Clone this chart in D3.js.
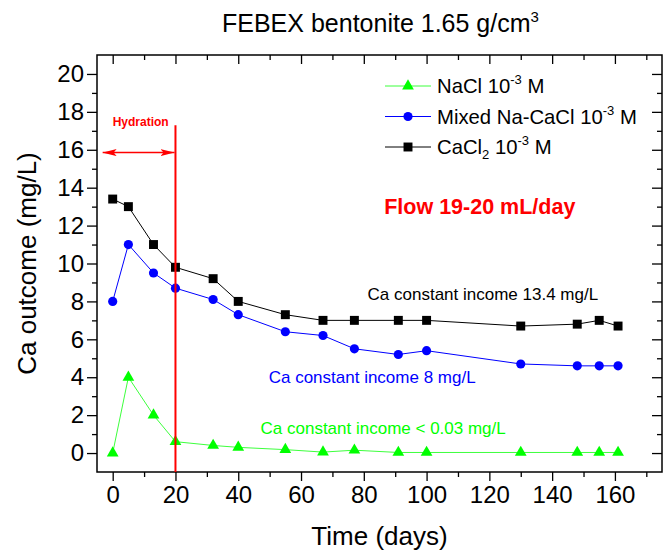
<!DOCTYPE html>
<html>
<head>
<meta charset="utf-8">
<script src="https://cdn.jsdelivr.net/npm/d3@7"></script>
<style>
  body { margin: 0; background: #fff; }
  svg { display: block; font-family: 'Liberation Sans', Arial, sans-serif; }
</style>
</head>
<body>
<div id="chart"></div>
<script>
// sampling times (days) shared by the three runs
const days = [0, 5, 13, 20, 32, 40, 55, 67, 77, 91, 100, 130, 148, 155, 161];
const naclCa = [0, 4.0, 2.0, 0.6, 0.4, 0.3, 0.18, 0.05, 0.15, 0.03, 0.03, 0.03, 0.03, 0.03, 0.03];
const mixedCa = [8.0, 11.0, 9.5, 8.7, 8.1, 7.3, 6.4, 6.2, 5.5, 5.2, 5.4, 4.7, 4.6, 4.6, 4.6];
const cacl2Ca = [13.4, 13.0, 11.0, 9.8, 9.2, 8.0, 7.3, 7.0, 7.0, 7.0, 7.0, 6.7, 6.8, 7.0, 6.7];

const xTickValues = [0, 20, 40, 60, 80, 100, 120, 140, 160];
const xMinorValues = [10, 30, 50, 70, 90, 110, 130, 150, 170];
const yTickValues = [0, 2, 4, 6, 8, 10, 12, 14, 16, 18, 20];
const yMinorValues = [1, 3, 5, 7, 9, 11, 13, 15, 17, 19];

const legendLabels = [
  [{ t: 'NaCl 10' }, { t: '-3', sup: true }, { t: ' M' }],
  [{ t: 'Mixed Na-CaCl 10' }, { t: '-3', sup: true }, { t: ' M' }],
  [{ t: 'CaCl' }, { t: '2', sub: true }, { t: ' 10' }, { t: '-3', sup: true }, { t: ' M' }]
];

const width = 671;
const height = 554;
const margin = { top: 55, right: 9, bottom: 82, left: 97 };
const innerW = width - margin.left - margin.right;
const innerH = height - margin.top - margin.bottom;

const svg = d3.select('#chart').append('svg')
  .attr('width', width)
  .attr('height', height);

const bounds = svg.append('g')
  .attr('transform', `translate(${margin.left},${margin.top})`);

const xScale = d3.scaleLinear().domain([-5, 175]).range([0, innerW]);
const yScale = d3.scaleLinear().domain([-1, 21]).range([innerH, 0]);

// axes: labelled bottom/left, mirrored ticks on top/right
const styleAxis = g => {
  g.select('.domain').remove();
  g.selectAll('line').attr('stroke', '#000').attr('stroke-width', 1.3);
  g.selectAll('text')
    .attr('fill', '#000')
    .style('font-size', '24px')
    .style('font-family', "'Liberation Sans', Arial, sans-serif");
};

bounds.append('g')
  .attr('transform', `translate(0,${innerH})`)
  .call(d3.axisBottom(xScale).tickValues(xTickValues).tickSize(9).tickPadding(5))
  .call(styleAxis);
bounds.append('g')
  .attr('transform', `translate(0,${innerH})`)
  .call(d3.axisBottom(xScale).tickValues(xMinorValues).tickSize(5).tickFormat(''))
  .call(styleAxis);
bounds.append('g')
  .call(d3.axisBottom(xScale).tickValues(xTickValues).tickSize(9).tickFormat(''))
  .call(styleAxis);
bounds.append('g')
  .call(d3.axisBottom(xScale).tickValues(xMinorValues).tickSize(5).tickFormat(''))
  .call(styleAxis);

bounds.append('g')
  .call(d3.axisLeft(yScale).tickValues(yTickValues).tickSize(10).tickPadding(3))
  .call(styleAxis);
bounds.append('g')
  .call(d3.axisLeft(yScale).tickValues(yMinorValues).tickSize(5).tickFormat(''))
  .call(styleAxis);
bounds.append('g')
  .attr('transform', `translate(${innerW},0)`)
  .call(d3.axisLeft(yScale).tickValues(yTickValues).tickSize(10).tickFormat(''))
  .call(styleAxis);
bounds.append('g')
  .attr('transform', `translate(${innerW},0)`)
  .call(d3.axisLeft(yScale).tickValues(yMinorValues).tickSize(5).tickFormat(''))
  .call(styleAxis);

bounds.append('rect')
  .attr('width', innerW)
  .attr('height', innerH)
  .attr('fill', 'none')
  .attr('stroke', '#000')
  .attr('stroke-width', 1.5);

// series
const series = [
  { values: cacl2Ca, line: '#000', fill: '#000', symbol: d3.symbolSquare, size: 80 },
  { values: mixedCa, line: '#0000ff', fill: '#0000ff', symbol: d3.symbolCircle, size: 66 },
  { values: naclCa, line: '#3dff3d', fill: '#00ff00', symbol: d3.symbolTriangle, size: 60 }
];

const lineGen = d3.line()
  .x(d => xScale(d[0]))
  .y(d => yScale(d[1]));

const seriesGroup = bounds.append('g');
series.forEach(s => {
  const pts = days.map((d, i) => [d, s.values[i]]);
  seriesGroup.append('path')
    .attr('d', lineGen(pts))
    .attr('fill', 'none')
    .attr('stroke', s.line)
    .attr('stroke-width', 1);
  seriesGroup.selectAll(null)
    .data(pts)
    .enter()
    .append('path')
    .attr('transform', d => `translate(${xScale(d[0])},${yScale(d[1])})`)
    .attr('d', d3.symbol().type(s.symbol).size(s.size))
    .attr('fill', s.fill);
});

// hydration period
const red = '#ff0000';
bounds.append('line')
  .attr('x1', xScale(20)).attr('x2', xScale(20))
  .attr('y1', yScale(17.3)).attr('y2', innerH)
  .attr('stroke', red)
  .attr('stroke-width', 2);

const defs = svg.append('defs');
defs.append('marker')
  .attr('id', 'arrow')
  .attr('viewBox', '0 0 14 7')
  .attr('refX', 14).attr('refY', 3.5)
  .attr('markerWidth', 14).attr('markerHeight', 7)
  .attr('markerUnits', 'userSpaceOnUse')
  .attr('orient', 'auto-start-reverse')
  .append('path')
  .attr('d', 'M0,0L14,3.5L0,7L3,3.5Z')
  .attr('fill', red);

bounds.append('line')
  .attr('x1', xScale(-3.2)).attr('x2', xScale(19.7))
  .attr('y1', yScale(15.85)).attr('y2', yScale(15.85))
  .attr('stroke', red)
  .attr('stroke-width', 1.5)
  .attr('marker-start', 'url(#arrow)')
  .attr('marker-end', 'url(#arrow)');

bounds.append('text')
  .attr('x', xScale(0))
  .attr('y', yScale(17.25))
  .attr('fill', red)
  .style('font-size', '12px')
  .style('font-weight', 'bold')
  .text('Hydration');

bounds.append('text')
  .attr('x', xScale(86.5))
  .attr('y', yScale(12.6))
  .attr('fill', red)
  .style('font-size', '21.5px')
  .style('font-weight', 'bold')
  .text('Flow 19-20 mL/day');

// constant income notes
const notes = [
  { x: 81.2, y: 8.07, color: '#000', text: 'Ca constant income 13.4 mg/L' },
  { x: 49.7, y: 3.68, color: '#0000ff', text: 'Ca constant income 8 mg/L' },
  { x: 47.1, y: 0.99, color: '#00ff00', text: 'Ca constant income < 0.03 mg/L' }
];
bounds.selectAll('.note')
  .data(notes)
  .enter()
  .append('text')
  .attr('class', 'note')
  .attr('x', d => xScale(d.x))
  .attr('y', d => yScale(d.y))
  .attr('fill', d => d.color)
  .style('font-size', '17px')
  .text(d => d.text);

// legend
const legend = bounds.append('g').attr('transform', 'translate(288,0)');
const legendSeries = [series[2], series[1], series[0]];
legendSeries.forEach((s, i) => {
  const row = legend.append('g').attr('transform', `translate(0,${31 + i * 30.5})`);
  row.append('line')
    .attr('x1', 0).attr('x2', 46)
    .attr('stroke', s.line)
    .attr('stroke-width', 1);
  row.append('path')
    .attr('transform', 'translate(23,0)')
    .attr('d', d3.symbol().type(s.symbol).size(s.size))
    .attr('fill', s.fill);
  const label = row.append('text')
    .attr('x', 52)
    .attr('y', 7)
    .style('font-size', '20.3px');
  let shift = 0;
  legendLabels[i].forEach(part => {
    const target = part.sup ? -9 : part.sub ? 5 : 0;
    label.append('tspan')
      .attr('dy', target - shift)
      .style('font-size', part.sup || part.sub ? '13px' : '20.3px')
      .text(part.t);
    shift = target;
  });
});

// titles
const title = svg.append('text')
  .attr('x', 222)
  .attr('y', 32)
  .style('font-size', '25px');
title.append('tspan').text('FEBEX bentonite 1.65 g/cm');
title.append('tspan').attr('dy', -10).style('font-size', '15px').text('3');

svg.append('text')
  .attr('x', margin.left + innerW / 2)
  .attr('y', 545)
  .attr('text-anchor', 'middle')
  .style('font-size', '26px')
  .text('Time (days)');

svg.append('text')
  .attr('transform', `translate(36,${margin.top + innerH / 2}) rotate(-90)`)
  .attr('text-anchor', 'middle')
  .style('font-size', '26px')
  .text('Ca outcome (mg/L)');
</script>
</body>
</html>
